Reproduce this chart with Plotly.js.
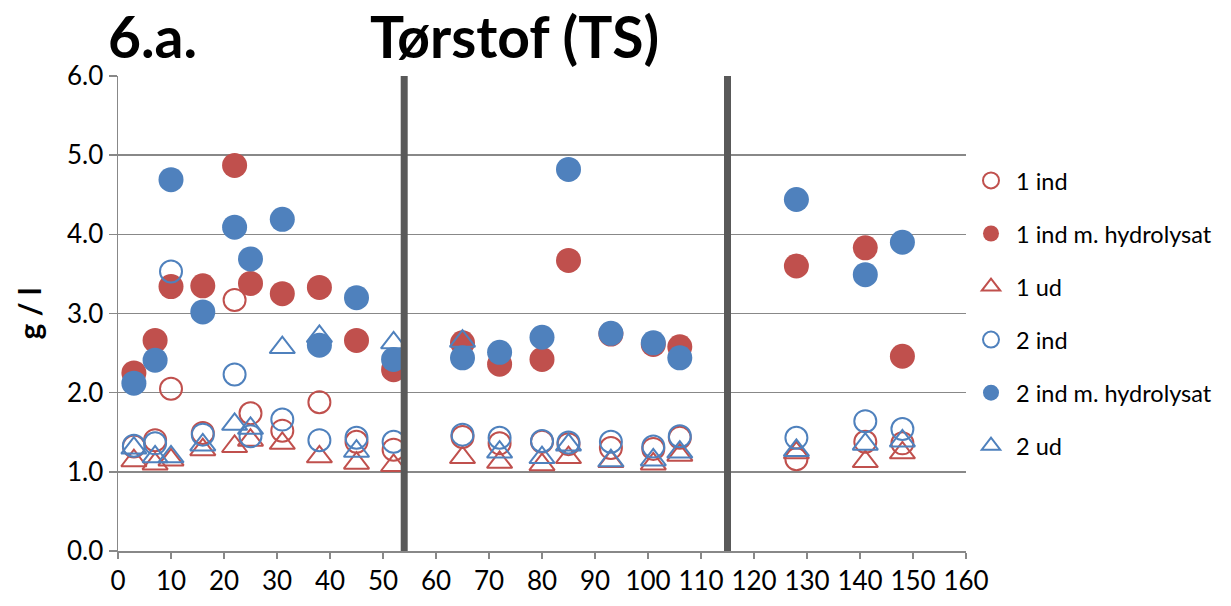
<!DOCTYPE html>
<html>
<head>
<meta charset="utf-8">
<script src="https://cdn.plot.ly/plotly-3.0.1.min.js"></script>
<style>
  html, body { margin: 0; padding: 0; background: #fff; }
  #chart { width: 1231px; height: 606px; }
</style>
</head>
<body>
<div id="chart"></div>
<script>
// Days (x) shared by all series
const days = [3, 7, 10, 16, 22, 25, 31, 38, 45, 52, 65, 72, 80, 85, 93, 101, 106, 128, 141, 148];

// Series values (g / l)
const ind1      = [1.32, 1.40, 2.05, 1.49, 3.17, 1.74, 1.52, 1.88, 1.38, 1.28, 1.44, 1.36, 1.38, 1.35, 1.30, 1.29, 1.43, 1.16, 1.38, 1.36];
const ind1Hydro = [2.25, 2.66, 3.34, 3.35, 4.87, 3.38, 3.25, 3.33, 2.66, 2.29, 2.63, 2.36, 2.42, 3.67, 2.74, 2.61, 2.58, 3.60, 3.83, 2.46];
const ud1       = [1.14, 1.10, 1.15, 1.28, 1.32, 1.40, 1.36, 1.19, 1.11, 1.08, 1.18, 1.12, 1.09, 1.18, 1.13, 1.10, 1.21, 1.24, 1.13, 1.24];
const ind2      = [1.33, 1.36, 3.53, 1.47, 2.23, 1.45, 1.66, 1.40, 1.43, 1.38, 1.47, 1.43, 1.39, 1.37, 1.38, 1.32, 1.45, 1.43, 1.64, 1.54];
const ind2Hydro = [2.12, 2.41, 4.69, 3.02, 4.09, 3.69, 4.19, 2.60, 3.20, 2.42, 2.44, 2.51, 2.70, 4.82, 2.75, 2.63, 2.44, 4.44, 3.49, 3.90];
const ud2       = [1.30, 1.19, 1.19, 1.34, 1.60, 1.55, 2.57, 2.71, 1.26, 2.63, 2.65, 1.25, 1.18, 1.34, 1.14, 1.15, 1.25, 1.27, 1.35, 1.39];

const seriesNames = ["1 ind", "1 ind m. hydrolysat", "1 ud", "2 ind", "2 ind m. hydrolysat", "2 ud"];
const separators = [54, 115];
const yTicks = [0, 1, 2, 3, 4, 5, 6];
const xTicks = [0, 10, 20, 30, 40, 50, 60, 70, 80, 90, 100, 110, 120, 130, 140, 150, 160];

const RED = "#C0504D";
const BLUE = "#4F81BD";
const FONT = "Lato, 'Open Sans', sans-serif";

function openCircle(y, color, name) {
  return { x: days, y: y, name: name, type: "scatter", mode: "markers", legendgroup: name,
    marker: { symbol: "circle-open", size: 22, color: color, line: { color: color, width: 2 } } };
}
function filledCircle(y, color, name) {
  return { x: days, y: y, name: name, type: "scatter", mode: "markers", legendgroup: name,
    marker: { symbol: "circle", size: 25, color: color, line: { width: 0 } } };
}
function openTri(y, color, name) {
  return { x: days, y: y, name: name, type: "scatter", mode: "markers", legendgroup: name,
    marker: { symbol: "triangle-up-open", size: 22, color: color, line: { color: color, width: 2 } } };
}

const data = [
  openCircle(ind1, RED, seriesNames[0]),
  filledCircle(ind1Hydro, RED, seriesNames[1]),
  openTri(ud1, RED, seriesNames[2]),
  openCircle(ind2, BLUE, seriesNames[3]),
  filledCircle(ind2Hydro, BLUE, seriesNames[4]),
  openTri(ud2, BLUE, seriesNames[5])
];

const shapes = separators.map(v => ({
  type: "line", xref: "x", yref: "paper", x0: v, x1: v, y0: 0, y1: 1,
  line: { color: "#595959", width: 7 }, layer: "above"
}));

const layout = {
  width: 1231, height: 606,
  margin: { l: 118, r: 265, t: 76, b: 55 },
  paper_bgcolor: "#ffffff", plot_bgcolor: "#ffffff",
  font: { family: FONT, color: "#000", size: 26 },
  showlegend: true,
  legend: {
    x: 1.0, xanchor: "left", y: 0.826, yanchor: "top",
    font: { family: FONT, size: 23.5, color: "#000" },
    traceorder: "grouped", tracegroupgap: 19.5, itemwidth: 40,
    bgcolor: "rgba(0,0,0,0)"
  },
  xaxis: {
    range: [0, 160], tickmode: "array", tickvals: xTicks, ticktext: xTicks.map(String),
    showgrid: false, zeroline: false,
    showline: true, linecolor: "#888888", linewidth: 1.5,
    ticks: "outside", ticklen: 6, tickcolor: "#888888", tickwidth: 1.5,
    tickfont: { family: FONT, size: 26, color: "#000" }
  },
  yaxis: {
    range: [0, 6], tickmode: "array", tickvals: yTicks, ticktext: yTicks.map(v => v.toFixed(1)),
    showgrid: true, gridcolor: "#888888", gridwidth: 1.5, zeroline: false,
    showline: true, linecolor: "#888888", linewidth: 1.5,
    ticks: "outside", ticklen: 8, tickcolor: "#888888", tickwidth: 1.5,
    tickfont: { family: FONT, size: 26, color: "#000" },
    title: { text: "<b>g / l</b>", font: { family: FONT, size: 30, color: "#000" }, standoff: 16 }
  },
  shapes: shapes,
  annotations: [
    { text: "<b>6.a.</b>", xref: "paper", yref: "paper", x: -0.014, y: 1.085, xanchor: "left", yanchor: "middle",
      showarrow: false, font: { family: FONT, size: 57, color: "#000" } },
    { text: "<b>Tørstof (TS)</b>", xref: "paper", yref: "paper", x: 0.295, y: 1.085, xanchor: "left", yanchor: "middle",
      showarrow: false, font: { family: FONT, size: 57, color: "#000" } }
  ]
};

Plotly.newPlot("chart", data, layout, { displayModeBar: false, staticPlot: true });
</script>
</body>
</html>
